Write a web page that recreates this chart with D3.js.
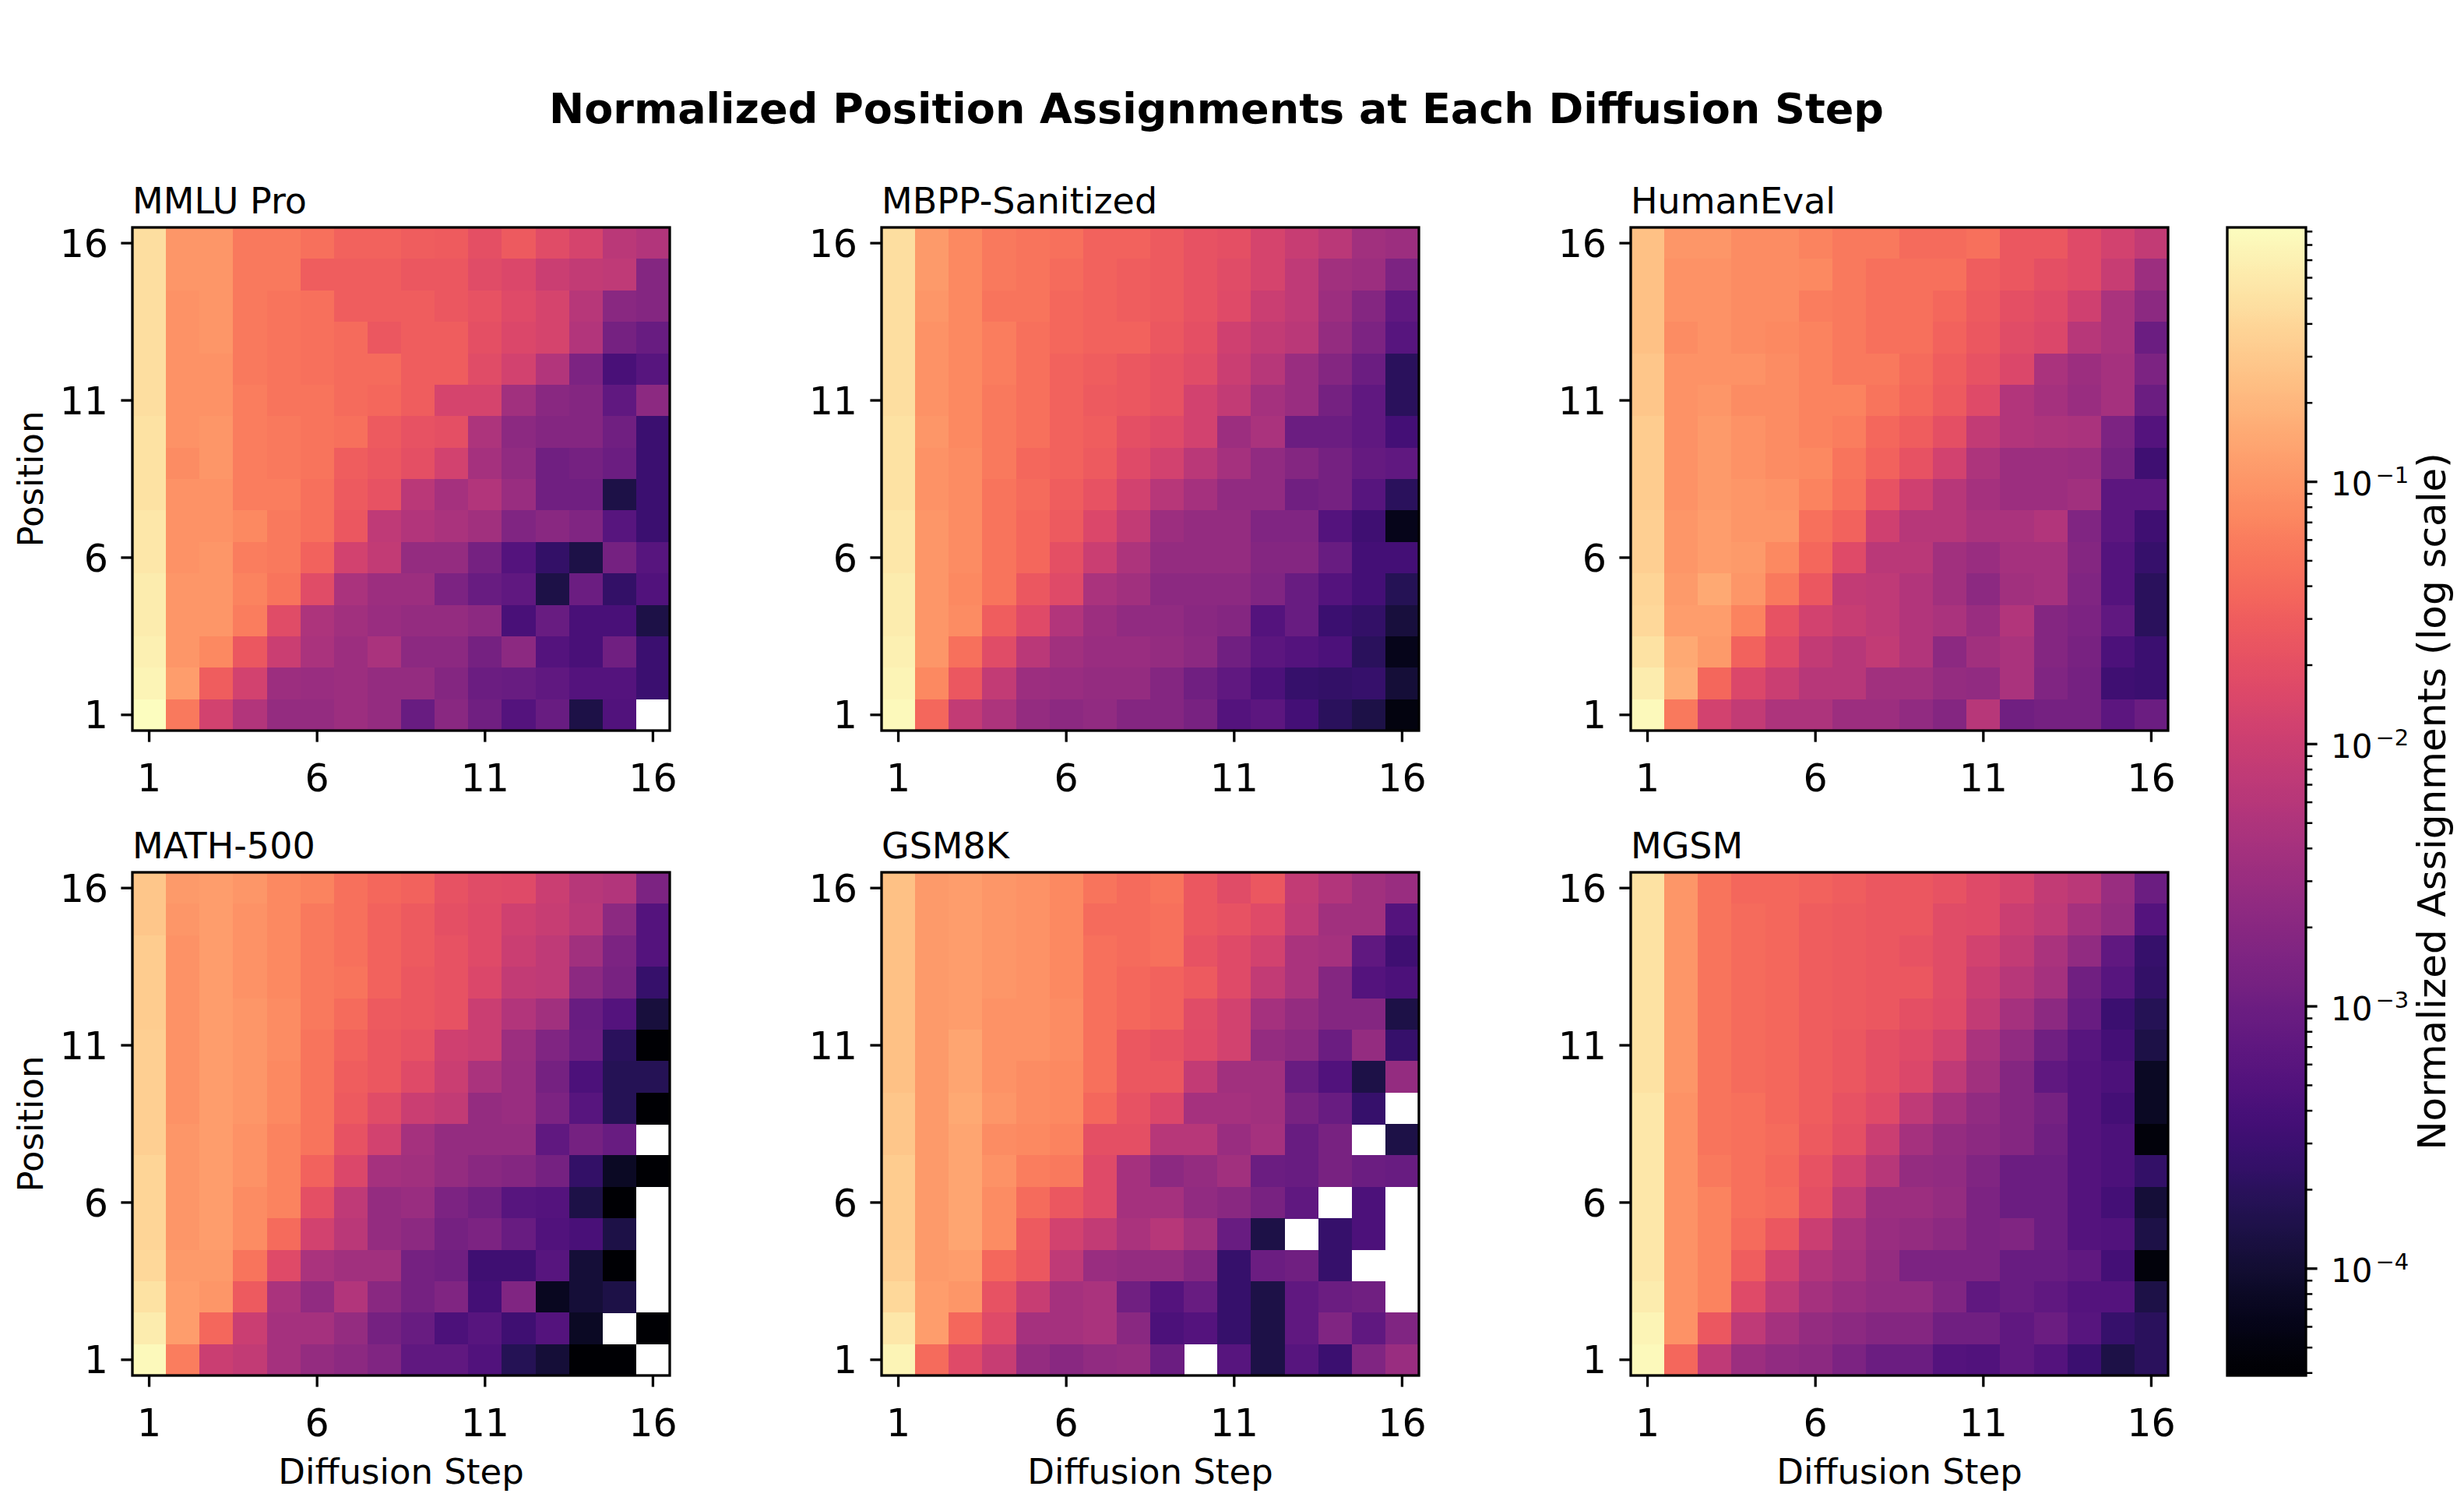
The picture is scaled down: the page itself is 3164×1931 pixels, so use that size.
<!DOCTYPE html>
<html>
<head>
<meta charset="utf-8">
<script src="https://cdn.jsdelivr.net/npm/d3@7"></script>
<style>
  body { margin: 0; background: #fff; }
  text { font-family: "DejaVu Sans", sans-serif; fill: #000; }
  .tick-label { font-size: 49px; }
  .cb-label { font-size: 42px; }
  .panel-title { font-size: 46px; }
  .axis-title { font-size: 45px; }
</style>
</head>
<body>
<svg id="chart" width="3164" height="1931"></svg>
<script>
var steps = d3.range(1, 17);
var positions = d3.range(1, 17);
var tickValues = [1, 6, 11, 16];
var colorbarTicks = [1e-4, 1e-3, 1e-2, 1e-1];
var colorbarTickExp = ["\u22124", "\u22123", "\u22122", "\u22121"];

// each matrix: one row per position, listed from position 16 (top) down to position 1,
// one value per diffusion step 1..16. 0 = no assignments (drawn white)
var mmluPro = [
  [0.46, 0.10, 0.10, 0.055, 0.055, 0.045, 0.034, 0.034, 0.030, 0.029, 0.020, 0.027, 0.018, 0.013, 0.0067, 0.0055],
  [0.46, 0.10, 0.10, 0.055, 0.055, 0.030, 0.030, 0.030, 0.025, 0.025, 0.018, 0.015, 0.010, 0.0082, 0.0074, 0.0018],
  [0.46, 0.092, 0.10, 0.055, 0.050, 0.045, 0.030, 0.030, 0.030, 0.025, 0.022, 0.017, 0.013, 0.0061, 0.0020, 0.0018],
  [0.46, 0.092, 0.10, 0.055, 0.050, 0.045, 0.041, 0.025, 0.030, 0.030, 0.020, 0.015, 0.013, 0.0055, 0.0012, 0.00089],
  [0.46, 0.092, 0.092, 0.055, 0.050, 0.045, 0.041, 0.041, 0.030, 0.030, 0.018, 0.012, 0.0055, 0.0015, 0.00040, 0.00059],
  [0.46, 0.092, 0.092, 0.061, 0.050, 0.050, 0.041, 0.037, 0.030, 0.013, 0.013, 0.0037, 0.0020, 0.0018, 0.00073, 0.0022],
  [0.51, 0.092, 0.10, 0.061, 0.055, 0.050, 0.045, 0.027, 0.022, 0.020, 0.0049, 0.0022, 0.0018, 0.0018, 0.0011, 0.00030],
  [0.51, 0.083, 0.10, 0.061, 0.055, 0.050, 0.030, 0.025, 0.020, 0.012, 0.0040, 0.0025, 0.0011, 0.0012, 0.00098, 0.00030],
  [0.51, 0.092, 0.092, 0.061, 0.061, 0.045, 0.027, 0.022, 0.0067, 0.0040, 0.0055, 0.0030, 0.0011, 0.0011, 0.00014, 0.00030],
  [0.56, 0.092, 0.092, 0.075, 0.055, 0.045, 0.025, 0.0074, 0.0055, 0.0045, 0.0037, 0.0016, 0.0020, 0.0016, 0.00059, 0.00030],
  [0.56, 0.092, 0.10, 0.061, 0.055, 0.034, 0.012, 0.0082, 0.0027, 0.0027, 0.0012, 0.00054, 0.00024, 0.00014, 0.0012, 0.00059],
  [0.63, 0.10, 0.10, 0.068, 0.050, 0.018, 0.0045, 0.0033, 0.0033, 0.0015, 0.00089, 0.00073, 0.00014, 0.00098, 0.00024, 0.00049],
  [0.63, 0.10, 0.10, 0.061, 0.018, 0.0049, 0.0037, 0.0030, 0.0027, 0.0027, 0.0022, 0.00040, 0.00089, 0.00040, 0.00040, 0.00014],
  [0.69, 0.10, 0.075, 0.025, 0.010, 0.0045, 0.0033, 0.0045, 0.0022, 0.0022, 0.0012, 0.0022, 0.00054, 0.00040, 0.0011, 0.00030],
  [0.76, 0.12, 0.030, 0.012, 0.0033, 0.0030, 0.0033, 0.0027, 0.0027, 0.0018, 0.00098, 0.00089, 0.00073, 0.00054, 0.00054, 0.00030],
  [0.93, 0.055, 0.012, 0.0055, 0.0027, 0.0027, 0.0033, 0.0027, 0.00089, 0.0020, 0.0011, 0.00054, 0.00089, 0.00014, 0.00049, 0]
];

var mbppSanitized = [
  [0.46, 0.11, 0.075, 0.055, 0.050, 0.045, 0.034, 0.034, 0.027, 0.022, 0.020, 0.013, 0.0091, 0.0067, 0.0037, 0.0033],
  [0.46, 0.11, 0.075, 0.055, 0.050, 0.041, 0.034, 0.030, 0.027, 0.022, 0.018, 0.013, 0.0074, 0.0037, 0.0033, 0.0015],
  [0.46, 0.10, 0.075, 0.050, 0.050, 0.037, 0.034, 0.030, 0.027, 0.022, 0.017, 0.010, 0.0074, 0.0033, 0.0018, 0.00073],
  [0.46, 0.092, 0.075, 0.061, 0.045, 0.037, 0.034, 0.034, 0.025, 0.020, 0.011, 0.0082, 0.0067, 0.0027, 0.0015, 0.00059],
  [0.46, 0.092, 0.075, 0.061, 0.045, 0.034, 0.030, 0.025, 0.022, 0.018, 0.010, 0.0061, 0.0030, 0.0018, 0.00098, 0.00020],
  [0.46, 0.092, 0.075, 0.055, 0.045, 0.034, 0.027, 0.025, 0.022, 0.012, 0.0082, 0.0040, 0.0030, 0.0012, 0.00073, 0.00020],
  [0.51, 0.10, 0.075, 0.055, 0.045, 0.034, 0.030, 0.020, 0.017, 0.012, 0.0033, 0.0045, 0.00098, 0.00098, 0.00073, 0.00036],
  [0.51, 0.092, 0.083, 0.055, 0.037, 0.034, 0.027, 0.017, 0.012, 0.0067, 0.0040, 0.0025, 0.0018, 0.0012, 0.00081, 0.00073],
  [0.51, 0.092, 0.083, 0.050, 0.041, 0.030, 0.022, 0.012, 0.0061, 0.0040, 0.0025, 0.0025, 0.0011, 0.0012, 0.00059, 0.00020],
  [0.56, 0.10, 0.083, 0.050, 0.037, 0.027, 0.015, 0.0082, 0.0033, 0.0027, 0.0027, 0.0016, 0.0016, 0.00054, 0.00032, 0.000065],
  [0.56, 0.10, 0.083, 0.050, 0.037, 0.020, 0.010, 0.0049, 0.0027, 0.0027, 0.0027, 0.0018, 0.0018, 0.00089, 0.00036, 0.00036],
  [0.63, 0.10, 0.075, 0.050, 0.025, 0.017, 0.0045, 0.0037, 0.0022, 0.0022, 0.0022, 0.0016, 0.00089, 0.00054, 0.00036, 0.00018],
  [0.63, 0.10, 0.083, 0.030, 0.017, 0.0055, 0.0033, 0.0025, 0.0025, 0.0020, 0.0018, 0.00054, 0.00089, 0.00030, 0.00024, 0.00012],
  [0.69, 0.10, 0.045, 0.018, 0.0067, 0.0037, 0.0030, 0.0030, 0.0027, 0.0022, 0.0011, 0.00066, 0.00054, 0.00044, 0.00020, 0.000065],
  [0.76, 0.075, 0.025, 0.0082, 0.0033, 0.0030, 0.0027, 0.0027, 0.0018, 0.0011, 0.00073, 0.00044, 0.00026, 0.00024, 0.00026, 0.00011],
  [0.85, 0.037, 0.0082, 0.0049, 0.0027, 0.0022, 0.0025, 0.0018, 0.0018, 0.0013, 0.00054, 0.00066, 0.00036, 0.00020, 0.00014, 0.000052]
];

var humanEval = [
  [0.25, 0.10, 0.10, 0.083, 0.083, 0.068, 0.055, 0.055, 0.041, 0.041, 0.045, 0.025, 0.025, 0.017, 0.012, 0.0082],
  [0.25, 0.092, 0.092, 0.083, 0.083, 0.075, 0.055, 0.045, 0.045, 0.045, 0.030, 0.025, 0.020, 0.017, 0.0091, 0.0033],
  [0.25, 0.092, 0.092, 0.083, 0.083, 0.061, 0.055, 0.045, 0.045, 0.037, 0.027, 0.020, 0.017, 0.011, 0.0045, 0.0022],
  [0.25, 0.083, 0.092, 0.083, 0.075, 0.068, 0.055, 0.045, 0.045, 0.034, 0.025, 0.018, 0.015, 0.0061, 0.0045, 0.00098],
  [0.28, 0.092, 0.092, 0.092, 0.083, 0.068, 0.055, 0.055, 0.041, 0.030, 0.022, 0.015, 0.0045, 0.0033, 0.0040, 0.0015],
  [0.28, 0.092, 0.10, 0.083, 0.083, 0.068, 0.068, 0.050, 0.037, 0.027, 0.017, 0.0055, 0.0040, 0.0030, 0.0040, 0.00098],
  [0.31, 0.092, 0.11, 0.092, 0.083, 0.068, 0.061, 0.037, 0.030, 0.020, 0.0082, 0.0055, 0.0049, 0.0045, 0.0015, 0.00054],
  [0.31, 0.092, 0.11, 0.092, 0.083, 0.075, 0.050, 0.034, 0.022, 0.012, 0.0049, 0.0033, 0.0033, 0.0030, 0.0012, 0.00032],
  [0.31, 0.092, 0.11, 0.10, 0.092, 0.068, 0.045, 0.022, 0.011, 0.0061, 0.0040, 0.0033, 0.0033, 0.0037, 0.00066, 0.00066],
  [0.34, 0.10, 0.12, 0.10, 0.10, 0.045, 0.034, 0.011, 0.0061, 0.0061, 0.0045, 0.0045, 0.0055, 0.0016, 0.00066, 0.00032],
  [0.34, 0.10, 0.12, 0.11, 0.075, 0.037, 0.017, 0.0067, 0.0067, 0.0037, 0.0030, 0.0040, 0.0040, 0.0018, 0.00054, 0.00026],
  [0.38, 0.11, 0.15, 0.10, 0.055, 0.025, 0.0082, 0.0074, 0.0055, 0.0037, 0.0022, 0.0037, 0.0040, 0.0016, 0.00054, 0.00020],
  [0.42, 0.12, 0.12, 0.068, 0.022, 0.012, 0.0091, 0.0074, 0.0055, 0.0045, 0.0030, 0.0055, 0.0018, 0.0015, 0.00073, 0.00020],
  [0.51, 0.15, 0.11, 0.034, 0.017, 0.0082, 0.0061, 0.0082, 0.0055, 0.0022, 0.0037, 0.0045, 0.0018, 0.0013, 0.00044, 0.00030],
  [0.63, 0.17, 0.037, 0.015, 0.010, 0.0061, 0.0061, 0.0037, 0.0037, 0.0027, 0.0025, 0.0045, 0.0016, 0.0012, 0.00032, 0.00030],
  [0.85, 0.055, 0.012, 0.0082, 0.0049, 0.0049, 0.0033, 0.0033, 0.0025, 0.0018, 0.0061, 0.0011, 0.0012, 0.0012, 0.00066, 0.00098]
];

var math500 = [
  [0.28, 0.11, 0.12, 0.10, 0.075, 0.068, 0.045, 0.037, 0.034, 0.022, 0.018, 0.017, 0.010, 0.0061, 0.0055, 0.0015],
  [0.28, 0.10, 0.12, 0.092, 0.075, 0.055, 0.045, 0.034, 0.027, 0.020, 0.017, 0.011, 0.0091, 0.0067, 0.0022, 0.00054],
  [0.31, 0.092, 0.12, 0.092, 0.075, 0.055, 0.045, 0.034, 0.027, 0.022, 0.017, 0.010, 0.0074, 0.0037, 0.0015, 0.00054],
  [0.31, 0.092, 0.12, 0.092, 0.075, 0.055, 0.050, 0.034, 0.025, 0.022, 0.015, 0.0082, 0.0074, 0.0022, 0.0013, 0.00026],
  [0.31, 0.092, 0.12, 0.10, 0.083, 0.055, 0.041, 0.027, 0.025, 0.022, 0.010, 0.0055, 0.0037, 0.00089, 0.00054, 0.00012],
  [0.34, 0.092, 0.12, 0.10, 0.083, 0.050, 0.034, 0.025, 0.022, 0.011, 0.010, 0.0033, 0.0016, 0.00098, 0.00020, 0.000039],
  [0.34, 0.092, 0.12, 0.10, 0.075, 0.050, 0.030, 0.025, 0.017, 0.010, 0.0045, 0.0030, 0.0012, 0.00044, 0.00018, 0.00018],
  [0.34, 0.092, 0.12, 0.10, 0.075, 0.050, 0.027, 0.018, 0.010, 0.0082, 0.0027, 0.0030, 0.0015, 0.00059, 0.00018, 0.000039],
  [0.34, 0.10, 0.12, 0.092, 0.068, 0.050, 0.022, 0.012, 0.0040, 0.0027, 0.0027, 0.0027, 0.00073, 0.0012, 0.00089, 0],
  [0.38, 0.10, 0.12, 0.092, 0.068, 0.034, 0.015, 0.0040, 0.0037, 0.0027, 0.0020, 0.0018, 0.0012, 0.00024, 0.000079, 0.000039],
  [0.38, 0.10, 0.12, 0.083, 0.068, 0.020, 0.0074, 0.0027, 0.0030, 0.0015, 0.0011, 0.00059, 0.00054, 0.00014, 0.000039, 0],
  [0.38, 0.10, 0.12, 0.083, 0.041, 0.012, 0.0067, 0.0027, 0.0022, 0.0012, 0.0015, 0.00089, 0.00049, 0.00040, 0.00014, 0],
  [0.42, 0.11, 0.11, 0.050, 0.017, 0.0045, 0.0037, 0.0037, 0.0012, 0.0011, 0.00032, 0.00032, 0.00059, 0.00011, 0.000039, 0],
  [0.51, 0.12, 0.10, 0.027, 0.0045, 0.0025, 0.0055, 0.0020, 0.0012, 0.0016, 0.00036, 0.0016, 0.000071, 0.00011, 0.00014, 0],
  [0.63, 0.12, 0.037, 0.010, 0.0040, 0.0040, 0.0027, 0.0012, 0.00089, 0.00044, 0.00059, 0.00032, 0.00054, 0.000079, 0, 0.000039],
  [0.85, 0.061, 0.010, 0.0082, 0.0040, 0.0027, 0.0022, 0.0016, 0.00073, 0.00073, 0.00049, 0.00018, 0.00011, 0.000039, 0.000039, 0]
];

var gsm8k = [
  [0.25, 0.11, 0.12, 0.10, 0.092, 0.075, 0.050, 0.041, 0.050, 0.025, 0.018, 0.025, 0.0082, 0.0055, 0.0037, 0.0030],
  [0.25, 0.11, 0.12, 0.10, 0.092, 0.075, 0.041, 0.041, 0.045, 0.025, 0.022, 0.017, 0.0074, 0.0037, 0.0037, 0.00054],
  [0.25, 0.11, 0.12, 0.10, 0.092, 0.075, 0.045, 0.041, 0.045, 0.022, 0.017, 0.012, 0.0045, 0.0040, 0.00073, 0.00032],
  [0.25, 0.11, 0.12, 0.10, 0.092, 0.075, 0.045, 0.037, 0.034, 0.027, 0.017, 0.0082, 0.0045, 0.0018, 0.00054, 0.00044],
  [0.25, 0.11, 0.12, 0.092, 0.092, 0.083, 0.045, 0.037, 0.034, 0.018, 0.012, 0.0040, 0.0027, 0.0018, 0.0018, 0.00014],
  [0.25, 0.11, 0.14, 0.092, 0.092, 0.083, 0.045, 0.025, 0.022, 0.017, 0.012, 0.0027, 0.0022, 0.00098, 0.0027, 0.00026],
  [0.25, 0.11, 0.14, 0.092, 0.083, 0.075, 0.045, 0.025, 0.025, 0.0082, 0.0037, 0.0037, 0.00089, 0.00049, 0.00014, 0.0027],
  [0.28, 0.11, 0.15, 0.10, 0.083, 0.075, 0.037, 0.022, 0.015, 0.0040, 0.0040, 0.0037, 0.0013, 0.00089, 0.00026, 0],
  [0.28, 0.11, 0.14, 0.083, 0.075, 0.068, 0.020, 0.020, 0.0061, 0.0061, 0.0030, 0.0040, 0.00089, 0.0013, 0, 0.00014],
  [0.31, 0.11, 0.14, 0.092, 0.061, 0.055, 0.017, 0.0040, 0.0022, 0.0027, 0.0037, 0.00098, 0.00089, 0.0013, 0.00098, 0.00089],
  [0.31, 0.11, 0.14, 0.083, 0.041, 0.025, 0.017, 0.0040, 0.0040, 0.0025, 0.0020, 0.0013, 0.00073, 0, 0.00044, 0],
  [0.31, 0.11, 0.14, 0.083, 0.027, 0.012, 0.0082, 0.0045, 0.0061, 0.0037, 0.00089, 0.00014, 0, 0.00026, 0.00044, 0],
  [0.34, 0.11, 0.12, 0.037, 0.025, 0.0074, 0.0030, 0.0027, 0.0027, 0.0018, 0.00026, 0.00098, 0.0011, 0.00026, 0, 0],
  [0.42, 0.12, 0.10, 0.022, 0.0091, 0.0040, 0.0045, 0.0011, 0.00054, 0.00089, 0.00026, 0.00014, 0.00073, 0.00098, 0.0011, 0],
  [0.56, 0.12, 0.037, 0.017, 0.0040, 0.0040, 0.0045, 0.0020, 0.00044, 0.00054, 0.00026, 0.00014, 0.00073, 0.0016, 0.00073, 0.0016],
  [0.76, 0.041, 0.017, 0.0091, 0.0027, 0.0020, 0.0025, 0.0027, 0.00098, 0, 0.00059, 0.00014, 0.00059, 0.00030, 0.0016, 0.0030]
];

var mgsm = [
  [0.51, 0.10, 0.050, 0.037, 0.037, 0.034, 0.030, 0.025, 0.025, 0.022, 0.017, 0.013, 0.0082, 0.0067, 0.0030, 0.00098],
  [0.51, 0.10, 0.050, 0.041, 0.037, 0.030, 0.027, 0.025, 0.025, 0.018, 0.017, 0.010, 0.0074, 0.0040, 0.0027, 0.00054],
  [0.51, 0.10, 0.050, 0.041, 0.037, 0.030, 0.027, 0.025, 0.022, 0.018, 0.012, 0.0082, 0.0045, 0.0025, 0.00073, 0.00026],
  [0.51, 0.10, 0.050, 0.041, 0.037, 0.030, 0.027, 0.025, 0.025, 0.018, 0.010, 0.0061, 0.0040, 0.0011, 0.00059, 0.00024],
  [0.51, 0.10, 0.050, 0.041, 0.037, 0.030, 0.027, 0.025, 0.020, 0.017, 0.0082, 0.0040, 0.0022, 0.00089, 0.00030, 0.00018],
  [0.51, 0.10, 0.050, 0.041, 0.037, 0.030, 0.025, 0.020, 0.017, 0.012, 0.0045, 0.0025, 0.0011, 0.00059, 0.00036, 0.00014],
  [0.51, 0.10, 0.050, 0.041, 0.037, 0.030, 0.025, 0.020, 0.015, 0.0074, 0.0037, 0.0018, 0.00073, 0.00054, 0.00044, 0.000079],
  [0.56, 0.092, 0.050, 0.045, 0.037, 0.030, 0.022, 0.017, 0.0074, 0.0040, 0.0025, 0.0018, 0.0012, 0.00054, 0.00036, 0.000079],
  [0.56, 0.092, 0.050, 0.045, 0.041, 0.027, 0.020, 0.010, 0.0040, 0.0027, 0.0022, 0.0018, 0.0011, 0.00054, 0.00044, 0.000048],
  [0.56, 0.092, 0.055, 0.045, 0.037, 0.022, 0.012, 0.0061, 0.0027, 0.0025, 0.0016, 0.00098, 0.00098, 0.00054, 0.00044, 0.00024],
  [0.56, 0.092, 0.068, 0.045, 0.041, 0.020, 0.0074, 0.0033, 0.0033, 0.0027, 0.0015, 0.00098, 0.00098, 0.00054, 0.00036, 0.00011],
  [0.56, 0.092, 0.068, 0.041, 0.025, 0.010, 0.0045, 0.0030, 0.0027, 0.0022, 0.0015, 0.0016, 0.00098, 0.00054, 0.00049, 0.00014],
  [0.56, 0.092, 0.068, 0.030, 0.012, 0.0055, 0.0040, 0.0027, 0.0015, 0.0015, 0.0015, 0.00089, 0.00089, 0.00073, 0.00036, 0.000048],
  [0.63, 0.092, 0.068, 0.017, 0.0074, 0.0040, 0.0030, 0.0025, 0.0025, 0.0016, 0.00073, 0.00089, 0.00073, 0.00054, 0.00054, 0.00014],
  [0.76, 0.092, 0.025, 0.0074, 0.0040, 0.0027, 0.0022, 0.0018, 0.0018, 0.0011, 0.0011, 0.00073, 0.00098, 0.00059, 0.00026, 0.00020],
  [0.85, 0.037, 0.0074, 0.0033, 0.0025, 0.0022, 0.0015, 0.00098, 0.00098, 0.00054, 0.00049, 0.00073, 0.00054, 0.00030, 0.00014, 0.00020]
];

var panelTitles = ["MMLU Pro", "MBPP-Sanitized", "HumanEval", "MATH-500", "GSM8K", "MGSM"];
var panelData = [mmluPro, mbppSanitized, humanEval, math500, gsm8k, mgsm];

// layout
var panelWidth = 690;
var panelHeight = 646;
var panelLefts = [170, 1132, 2094];
var panelTops = [292, 1120];
var cbLeft = 2860, cbWidth = 101;
var cbTop = 292, cbBottom = 1766;

var svg = d3.select("#chart");
svg.append("rect").attr("width", 3164).attr("height", 1931).attr("fill", "#fff");

/*====================================================================
       colour scale, log, from smallest to largest non zero value
    ==================================================================*/
var allValues = d3.merge(panelData.map(function (m) { return d3.merge(m); }))
    .filter(function (v) { return v > 0; });
var vmin = d3.min(allValues);
var vmax = d3.max(allValues);
var color = d3.scaleSequentialLog(d3.interpolateMagma).domain([vmin, vmax]);

svg.append("text")
    .attr("x", 1562)
    .attr("y", 158)
    .attr("text-anchor", "middle")
    .style("font-size", "54px")
    .style("font-weight", "bold")
    .text("Normalized Position Assignments at Each Diffusion Step");

/*====================================================================
       one heatmap panel
    ==================================================================*/
panelData.forEach(function (matrix, i) {
    var col = i % 3;
    var row = Math.floor(i / 3);
    var left = panelLefts[col];
    var top = panelTops[row];

    var x = d3.scaleBand().domain(steps).range([left, left + panelWidth]);
    var y = d3.scaleBand().domain(positions.slice().reverse()).range([top, top + panelHeight]);

    var cells = [];
    matrix.forEach(function (vals, r) {
        vals.forEach(function (v, c) {
            cells.push({ position: 16 - r, step: steps[c], value: v });
        });
    });

    var g = svg.append("g");
    g.selectAll("rect.cell")
        .data(cells.filter(function (d) { return d.value > 0; }))
        .enter()
        .append("rect")
        .attr("class", "cell")
        .attr("x", function (d) { return x(d.step); })
        .attr("y", function (d) { return y(d.position); })
        .attr("width", x.bandwidth() + 0.5)
        .attr("height", y.bandwidth() + 0.5)
        .attr("shape-rendering", "crispEdges")
        .attr("fill", function (d) { return color(d.value); });

    g.append("rect")
        .attr("x", left)
        .attr("y", top)
        .attr("width", panelWidth)
        .attr("height", panelHeight)
        .attr("fill", "none")
        .attr("stroke", "#000")
        .attr("stroke-width", 3.3);

    var xAxis = g.append("g")
        .attr("transform", "translate(0," + (top + panelHeight) + ")")
        .call(d3.axisBottom(x).tickValues(tickValues).tickSize(14.6));
    xAxis.select(".domain").remove();
    xAxis.selectAll("line").attr("stroke-width", 3.3);
    xAxis.selectAll("text")
        .attr("class", "tick-label")
        .attr("y", 78)
        .attr("dy", null);

    var yAxis = g.append("g")
        .attr("transform", "translate(" + left + ",0)")
        .call(d3.axisLeft(y).tickValues(tickValues).tickSize(14.6));
    yAxis.select(".domain").remove();
    yAxis.selectAll("line").attr("stroke-width", 3.3);
    yAxis.selectAll("text")
        .attr("class", "tick-label")
        .attr("x", -31)
        .attr("dy", "0.36em");

    g.append("text")
        .attr("class", "panel-title")
        .attr("x", left)
        .attr("y", top - 18)
        .text(panelTitles[i]);

    if (col === 0) {
        g.append("text")
            .attr("class", "axis-title")
            .attr("text-anchor", "middle")
            .attr("transform", "translate(55," + (top + panelHeight / 2) + ") rotate(-90)")
            .text("Position");
    }
    if (row === 1) {
        g.append("text")
            .attr("class", "axis-title")
            .attr("text-anchor", "middle")
            .attr("x", left + panelWidth / 2)
            .attr("y", 1905)
            .text("Diffusion Step");
    }
});

/*====================================================================
       colorbar
    ==================================================================*/
var defs = svg.append("defs");
var grad = defs.append("linearGradient")
    .attr("id", "magma")
    .attr("x1", 0).attr("y1", 1).attr("x2", 0).attr("y2", 0);
d3.range(0, 1.0001, 0.01).forEach(function (t) {
    grad.append("stop")
        .attr("offset", t)
        .attr("stop-color", d3.interpolateMagma(t));
});

svg.append("rect")
    .attr("x", cbLeft)
    .attr("y", cbTop)
    .attr("width", cbWidth)
    .attr("height", cbBottom - cbTop)
    .attr("fill", "url(#magma)")
    .attr("stroke", "#000")
    .attr("stroke-width", 3.3);

var cbScale = d3.scaleLog().domain([vmin, vmax]).range([cbBottom, cbTop]);

var minorTicks = [];
[-5, -4, -3, -2, -1].forEach(function (e) {
    d3.range(2, 10).forEach(function (k) {
        var v = k * Math.pow(10, e);
        if (v >= vmin && v <= vmax) minorTicks.push(v);
    });
});

var cbMinor = svg.append("g")
    .attr("transform", "translate(" + (cbLeft + cbWidth) + ",0)")
    .call(d3.axisRight(cbScale).tickValues(minorTicks).tickSize(8.3).tickFormat(""));
cbMinor.select(".domain").remove();
cbMinor.selectAll("line").attr("stroke-width", 2.5);

var cbMajor = svg.append("g")
    .attr("transform", "translate(" + (cbLeft + cbWidth) + ",0)")
    .call(d3.axisRight(cbScale).tickValues(colorbarTicks).tickSize(14.6).tickFormat(""));
cbMajor.select(".domain").remove();
cbMajor.selectAll("line").attr("stroke-width", 3.3);

colorbarTicks.forEach(function (v, i) {
    var t = svg.append("text")
        .attr("class", "cb-label")
        .attr("x", 2993)
        .attr("y", cbScale(v) + 18);
    t.append("tspan").text("10");
    t.append("tspan")
        .attr("dy", -16)
        .attr("dx", 4)
        .style("font-size", "29px")
        .text(colorbarTickExp[i]);
});

svg.append("text")
    .attr("text-anchor", "middle")
    .attr("transform", "translate(3140," + ((cbTop + cbBottom) / 2) + ") rotate(-90)")
    .style("font-size", "50px")
    .text("Normalized Assignments (log scale)");
</script>
</body>
</html>
